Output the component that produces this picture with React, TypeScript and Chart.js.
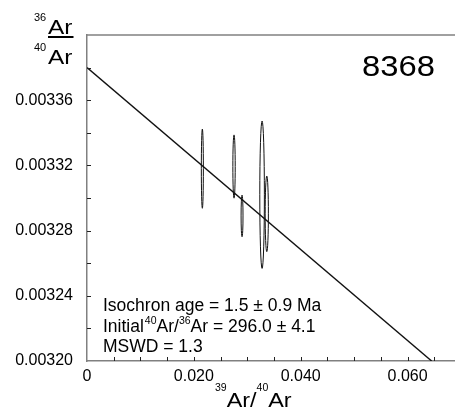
import React, { useEffect, useRef } from 'react';
import { Chart, registerables } from 'chart.js';
Chart.register(...registerables);

// Isochron regression line (end points in data units)
const lineX = [0, 0.0645];
const lineY = [0.00338, 0.0032];

// Error ellipses: centres and half-axes in data units
const ellX = [0.02159, 0.02752, 0.02902, 0.03277, 0.03365];
const ellY = [0.003318, 0.0033193, 0.003289, 0.003302, 0.0032903];
const ellRx = [0.00019, 0.00022, 0.00018, 0.00043, 0.0003];
const ellRy = [0.0000243, 0.0000194, 0.0000128, 0.0000452, 0.0000232];

// Tick labels
const xLabelValues = [0, 0.02, 0.04, 0.06];
const xLabels = ['0', '0.020', '0.040', '0.060'];
const yLabelValues = [0.0032, 0.00324, 0.00328, 0.00332, 0.00336];
const yLabels = ['0.00320', '0.00324', '0.00328', '0.00332', '0.00336'];

const sampleName = '8368';
const statAge = 'Isochron age = 1.5 ± 0.9 Ma';
const statMswd = 'MSWD = 1.3';

const FONT = '"Liberation Sans", Arial, sans-serif';

function txt(ctx: CanvasRenderingContext2D, s: string, x: number, y: number, size: number, sx = 1, align = 'left') {
  ctx.save();
  ctx.font = `${size}px ${FONT}`;
  ctx.textBaseline = 'alphabetic';
  ctx.textAlign = 'left';
  ctx.fillStyle = '#000';
  const w = ctx.measureText(s).width * sx;
  const x0 = align === 'right' ? x - w : align === 'center' ? x - w / 2 : x;
  ctx.translate(x0, y);
  ctx.scale(sx, 1);
  ctx.fillText(s, 0, 0);
  ctx.restore();
  return w;
}

const decorPlugin = {
  id: 'decor',
  afterDatasetsDraw(chart: any) {
    const { ctx, scales } = chart;
    const xs = scales.x, ys = scales.y;
    ctx.save();
    ctx.strokeStyle = '#111';
    ctx.lineWidth = 1;
    for (let i = 0; i < ellX.length; i++) {
      const cx = xs.getPixelForValue(ellX[i]);
      const cy = ys.getPixelForValue(ellY[i]);
      const rx = Math.abs(xs.getPixelForValue(ellX[i] + ellRx[i]) - cx);
      const ry = Math.abs(ys.getPixelForValue(ellY[i] + ellRy[i]) - cy);
      ctx.beginPath();
      ctx.ellipse(cx, cy, rx, ry, 0, 0, Math.PI * 2);
      ctx.stroke();
    }
    ctx.restore();
  },
  afterDraw(chart: any) {
    const { ctx, chartArea, scales } = chart;
    const xs = scales.x, ys = scales.y;
    ctx.save();
    ctx.strokeStyle = '#808080';
    ctx.lineWidth = 1.5;
    ctx.beginPath();
    ctx.moveTo(chartArea.left, chartArea.top);
    ctx.lineTo(chartArea.right, chartArea.top);
    ctx.stroke();
    ctx.strokeStyle = '#222';
    ctx.lineWidth = 1;
    for (const t of xs.ticks) {
      const p = Math.round(xs.getPixelForValue(t.value)) + 0.5;
      if (p <= chartArea.left + 1) continue;
      ctx.beginPath();
      ctx.moveTo(p, chartArea.bottom);
      ctx.lineTo(p, chartArea.bottom - 4);
      ctx.stroke();
    }
    for (const t of ys.ticks) {
      const p = Math.round(ys.getPixelForValue(t.value)) + 0.5;
      if (p >= chartArea.bottom - 1 || p <= chartArea.top + 1) continue;
      ctx.beginPath();
      ctx.moveTo(chartArea.left, p);
      ctx.lineTo(chartArea.left + 4, p);
      ctx.stroke();
    }
    ctx.restore();

    // Y title: 36Ar / 40Ar
    txt(ctx, '36', 34, 21, 11);
    txt(ctx, 'Ar', 48, 34, 19.5, 1.25);
    ctx.save();
    ctx.fillStyle = '#000';
    ctx.fillRect(48, 36, 25.5, 2);
    ctx.restore();
    txt(ctx, '40', 34, 50.5, 11);
    txt(ctx, 'Ar', 48, 63.5, 19.5, 1.25);

    // X title: 39Ar/40Ar
    let x = 215;
    x += txt(ctx, '39', x, 390.5, 10.5);
    x += txt(ctx, 'Ar/', x, 406.7, 19.5, 1.2);
    x += txt(ctx, '40', x, 390.5, 10.5);
    txt(ctx, 'Ar', x, 406.7, 19.5, 1.2);

    // sample name
    txt(ctx, sampleName, 435, 76, 29, 1.13, 'right');

    // statistics
    txt(ctx, statAge, 103, 310.7, 17.5);
    let sx = 103;
    sx += txt(ctx, 'Initial', sx, 331.5, 17.5) + 1;
    sx += txt(ctx, '40', sx, 323.5, 10.5);
    sx += txt(ctx, 'Ar/', sx, 331.5, 17.5);
    sx += txt(ctx, '36', sx, 323.5, 10.5);
    txt(ctx, 'Ar = 296.0 ± 4.1', sx, 331.5, 17.5);
    txt(ctx, statMswd, 103, 351.7, 17.5);
  },
};

function findLabel(vals: number[], labels: string[], v: number, tol: number) {
  const i = vals.findIndex((a) => Math.abs(a - v) < tol);
  return i >= 0 ? labels[i] : '';
}

export default function App() {
  const ref = useRef<HTMLCanvasElement>(null);
  useEffect(() => {
    if (!ref.current) return;
    const chart = new Chart(ref.current, {
      type: 'scatter',
      data: {
        datasets: [
          {
            data: lineX.map((v, i) => ({ x: v, y: lineY[i] })),
            showLine: true,
            borderColor: '#111',
            borderWidth: 1.4,
            pointRadius: 0,
            fill: false,
          },
        ],
      },
      options: {
        animation: false,
        responsive: true,
        maintainAspectRatio: false,
        layout: { padding: { top: 35, right: 0, left: 0, bottom: 0 } },
        plugins: { legend: { display: false }, tooltip: { enabled: false } },
        scales: {
          x: {
            type: 'linear',
            min: 0,
            max: 0.07,
            afterFit: (s: any) => { s.height = 49; },
            grid: { display: false },
            border: { display: true, color: '#808080', width: 1.5 },
            ticks: {
              stepSize: 0.005,
              autoSkip: false,
              maxRotation: 0,
              padding: -2,
              color: '#000',
              font: { family: FONT, size: 16 },
              callback: (v: any) => findLabel(xLabelValues, xLabels, Number(v), 1e-7),
            },
          },
          y: {
            type: 'linear',
            min: 0.0032,
            max: 0.0034,
            afterFit: (s: any) => { s.width = 87; },
            grid: { display: false },
            border: { display: true, color: '#808080', width: 1.5 },
            ticks: {
              stepSize: 0.00002,
              autoSkip: false,
              padding: 6,
              color: '#000',
              font: { family: FONT, size: 16 },
              callback: (v: any) => findLabel(yLabelValues, yLabels, Number(v), 1e-9),
            },
          },
        },
      },
      plugins: [decorPlugin],
    });
    return () => chart.destroy();
  }, []);
  return (
    <div style={{ position: 'fixed', left: 0, top: 0, width: 455, height: 410, overflow: 'hidden', background: '#fff' }}>
      <div style={{ width: 461, height: 410, position: 'relative' }}>
        <canvas ref={ref} />
      </div>
    </div>
  );
}
